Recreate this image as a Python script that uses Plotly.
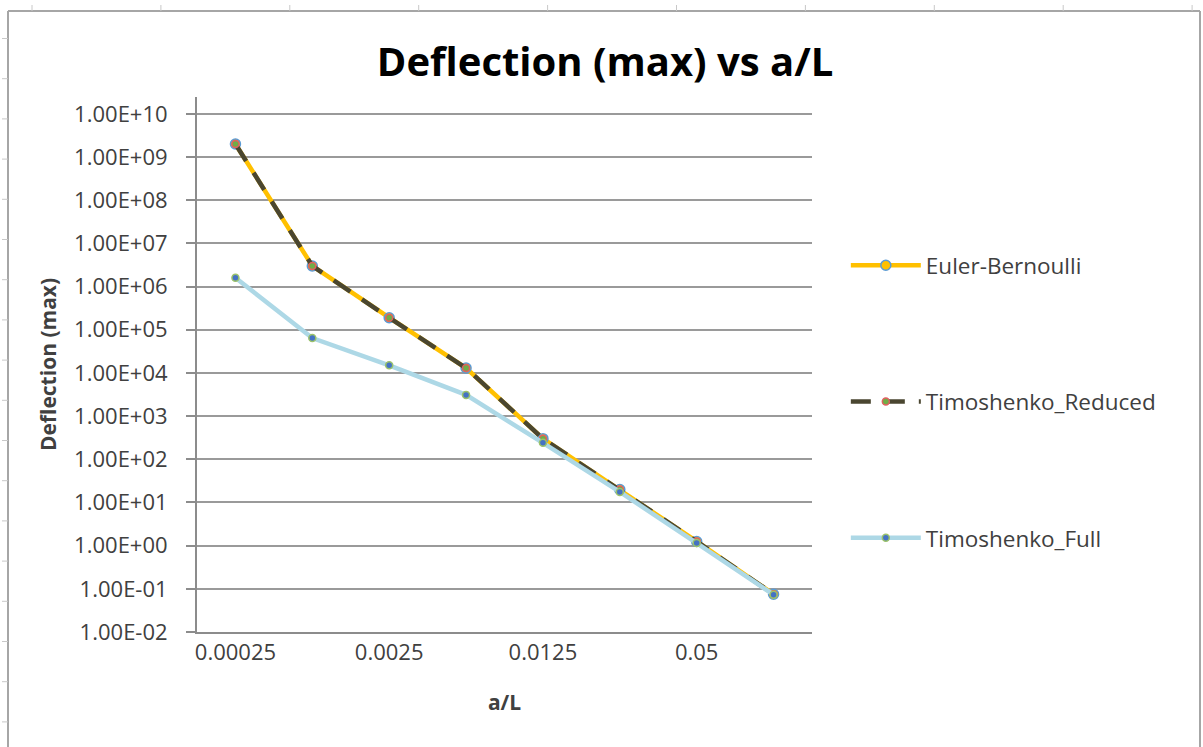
import plotly.graph_objects as go

# ---- data ----
a_over_L = ["0.00025", "0.00125", "0.0025", "0.005", "0.0125", "0.025", "0.05", "0.1"]
euler_bernoulli = [2.0e9, 3.0e6, 1.9e5, 1.3e4, 3.0e2, 2.0e1, 1.25e0, 7.5e-2]
timoshenko_reduced = [2.0e9, 3.0e6, 1.9e5, 1.3e4, 3.0e2, 2.0e1, 1.25e0, 7.5e-2]
timoshenko_full = [1.6e6, 6.4e4, 1.5e4, 3.1e3, 2.4e2, 1.75e1, 1.15e0, 7.3e-2]
shown_x_labels = ["0.00025", "0.0025", "0.0125", "0.05"]
y_exponents = list(range(-2, 11))

W, H = 1203, 747
L_M, R_M, T_M, B_M = 197, 391, 97, 115
PW = W - L_M - R_M
PH = H - T_M - B_M

def px_x(p):
    return (p - L_M) / PW

def px_y(p):
    return (H - B_M - p) / PH

FONT = "Open Sans"
TXT = "#404040"

fig = go.Figure()
fig.add_trace(go.Scatter(
    x=a_over_L, y=euler_bernoulli, name="Euler-Bernoulli", mode="lines+markers",
    line=dict(color="#FFC000", width=4.5),
    marker=dict(symbol="circle", size=10, color="#FFC000", line=dict(color="#5B9BD5", width=1.5)),
    legendgroup="a"))
fig.add_trace(go.Scatter(
    x=a_over_L, y=timoshenko_reduced, name="Timoshenko_Reduced", mode="lines+markers",
    line=dict(color="#4A4630", width=4.5, dash="20px,14px"),
    marker=dict(symbol="circle", size=7, color="#70AD47", line=dict(color="#E06060", width=1.5)),
    legendgroup="b"))
fig.add_trace(go.Scatter(
    x=a_over_L, y=timoshenko_full, name="Timoshenko_Full", mode="lines+markers",
    line=dict(color="#ADD8E6", width=4.5),
    marker=dict(symbol="circle", size=7, color="#4472C4", line=dict(color="#9BC26B", width=1.5)),
    legendgroup="c"))

# spreadsheet frame decorations
shapes = []
gray = "#A6A6A6"
shapes.append(dict(type="line", xref="paper", yref="paper", x0=px_x(8), x1=px_x(8), y0=px_y(11), y1=px_y(760), line=dict(color=gray, width=2)))
shapes.append(dict(type="line", xref="paper", yref="paper", x0=px_x(8), x1=px_x(1200), y0=px_y(11), y1=px_y(11), line=dict(color=gray, width=2)))
shapes.append(dict(type="line", xref="paper", yref="paper", x0=px_x(1200), x1=px_x(1200), y0=px_y(11), y1=px_y(760), line=dict(color=gray, width=2)))
for i in range(10):
    xp = 32 + i * 128.9
    shapes.append(dict(type="line", xref="paper", yref="paper", x0=px_x(xp), x1=px_x(xp), y0=px_y(5), y1=px_y(11), line=dict(color="#C8C8C8", width=1)))
for i in range(18):
    yp = 38.5 + i * 40.2
    shapes.append(dict(type="line", xref="paper", yref="paper", x0=px_x(2), x1=px_x(8), y0=px_y(yp), y1=px_y(yp), line=dict(color="#C8C8C8", width=1)))

fig.update_layout(
    width=W, height=H,
    margin=dict(l=L_M, r=R_M, t=T_M, b=B_M),
    paper_bgcolor="white", plot_bgcolor="white",
    font=dict(family=FONT, size=22, color=TXT),
    title=dict(text="<b>Deflection (max) vs a/L</b>", x=0.503, xanchor="center",
               y=1 - 62 / H, yanchor="middle",
               font=dict(family=FONT, size=40, color="#000000")),
    legend=dict(x=1.055, xanchor="left", y=0.725, yanchor="top", itemwidth=70,
                tracegroupgap=104, font=dict(family=FONT, size=22.5, color=TXT),
                bgcolor="rgba(0,0,0,0)"),
    shapes=shapes,
)
fig.update_xaxes(
    type="category", range=[-0.5, 7.5],
    tickmode="array", tickvals=shown_x_labels, ticktext=shown_x_labels,
    showgrid=False, showline=True, linecolor="#8C8C8C", linewidth=2,
    ticks="", tickfont=dict(family=FONT, size=22, color=TXT),
    title=dict(text="<b>a/L</b>", standoff=30, font=dict(family=FONT, size=21, color=TXT)),
    zeroline=False,
)
fig.update_yaxes(
    type="log", range=[-2, 10.39],
    tickmode="array", tickvals=[10.0 ** k for k in y_exponents],
    ticktext=[f"{10.0 ** k:.2E}" for k in y_exponents],
    showgrid=True, gridcolor="#9A9A9A", gridwidth=1.5,
    showline=True, linecolor="#8C8C8C", linewidth=2,
    ticks="outside", ticklen=9, tickcolor="#8C8C8C", tickwidth=1.5,
    ticklabelstandoff=14,
    tickfont=dict(family=FONT, size=22, color=TXT),
    title=dict(text="<b>Deflection (max)</b>", standoff=12, font=dict(family=FONT, size=21, color=TXT)),
    zeroline=False,
)

fig.write_html("out.html", config={"displayModeBar": False},
               post_script="document.body.style.margin='0px';")
